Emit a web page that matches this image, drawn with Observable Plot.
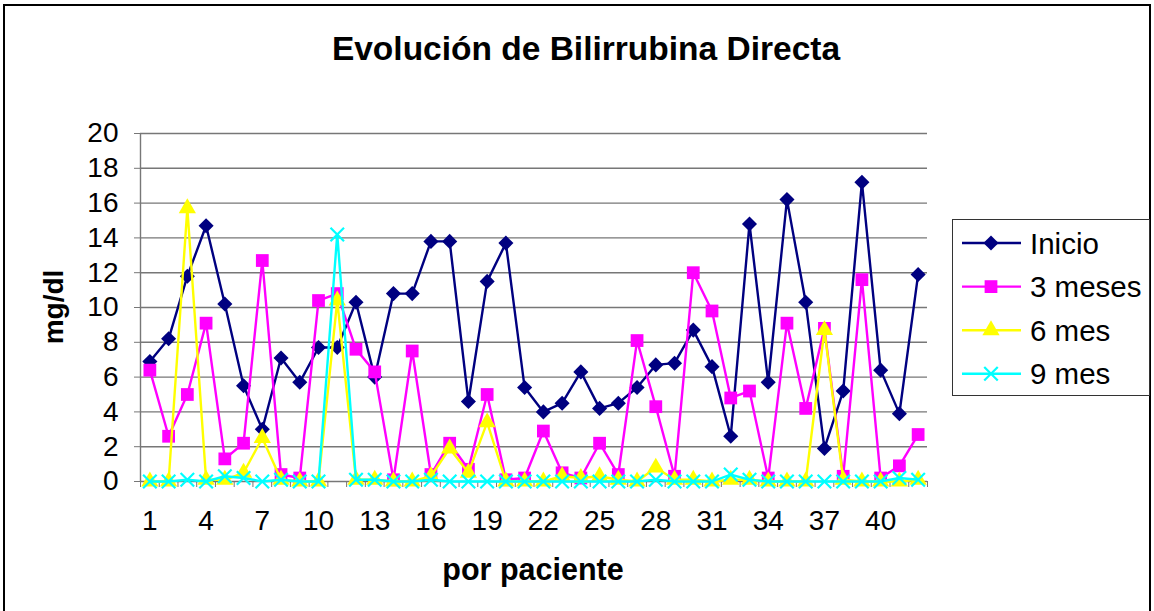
<!DOCTYPE html>
<html>
<head>
<meta charset="utf-8">
<script src="https://cdn.jsdelivr.net/npm/d3@7"></script>
<script src="https://cdn.jsdelivr.net/npm/@observablehq/plot@0.6"></script>
<style>
  html, body { margin: 0; padding: 0; background: #fff; }
  #wrap { position: relative; width: 1154px; height: 611px; overflow: hidden; font-family: "Liberation Sans", Arial, sans-serif; }
  #frame { position: absolute; left: 3px; top: 4px; width: 1148px; height: 640px; border: 2px solid #000; box-sizing: border-box; pointer-events: none; }
  #chart { position: absolute; left: 0; top: 0; }
  .overlay { position: absolute; left: 0; top: 0; pointer-events: none; }
</style>
</head>
<body>
<div id="wrap">
  <div id="chart"></div>
  <div id="frame"></div>
</div>
<script>
// ---- data ----
const patients = d3.range(1, 43);
const inicio  = [6.9, 8.2, 11.8, 14.7, 10.2, 5.5, 3.0, 7.1, 5.7, 7.7, 7.7, 10.3, 6.0, 10.8, 10.8, 13.8, 13.8, 4.6, 11.5, 13.7, 5.4, 4.0, 4.5, 6.3, 4.2, 4.5, 5.4, 6.7, 6.8, 8.7, 6.6, 2.6, 14.8, 5.7, 16.2, 10.3, 1.9, 5.2, 17.2, 6.4, 3.9, 11.9];
const meses3  = [6.4, 2.6, 5.0, 9.1, 1.3, 2.2, 12.7, 0.4, 0.2, 10.4, 10.8, 7.6, 6.3, 0.1, 7.5, 0.4, 2.2, 0.7, 5.0, 0.1, 0.2, 2.9, 0.5, 0.2, 2.2, 0.4, 8.1, 4.3, 0.3, 12.0, 9.8, 4.8, 5.2, 0.2, 9.1, 4.2, 8.8, 0.3, 11.6, 0.2, 0.9, 2.7];
const mes6    = [0, 0, 15.7, 0.1, 0.1, 0.5, 2.5, 0.1, 0, 0, 10.4, 0.1, 0.1, 0, 0, 0.3, 1.9, 0.5, 3.4, 0, 0, 0, 0.3, 0.2, 0.3, 0.1, 0, 0.8, 0.1, 0.1, 0, 0.1, 0.1, 0, 0, 0, 8.7, 0.1, 0, 0, 0, 0.1];
const mes9    = [0, 0, 0.1, 0, 0.3, 0.2, 0, 0.1, 0, 0, 14.2, 0.1, 0.1, 0, 0, 0.1, 0, 0, 0, 0, 0, 0, 0, 0, 0, 0, 0, 0.1, 0, 0, 0, 0.4, 0.1, 0, 0, 0, 0, 0, 0, 0, 0.2, 0.1];
const seriesNames = ["Inicio", "3 meses", "6 mes", "9 mes"];
const yTicks = d3.range(0, 21, 2);
const xTickLabels = d3.range(1, 41, 3);
const title = "Evolución de Bilirrubina Directa";
const xTitle = "por paciente";
const yTitle = "mg/dl";

// ---- styling ----
const colors = ["#000080", "#FF00FF", "#FFFF00", "#00FFFF"];
const symbols = ["diamond2", "square", "triangle", "times"];
const radii = [6.8, 7.2, 6.4, 6.2];
const allValues = [inicio, meses3, mes6, mes9];

const tables = allValues.map((vals, i) => vals.map((v, j) => ({patient: patients[j], value: v, serie: seriesNames[i]})));

const marks = [
  Plot.ruleY(yTicks.filter(d => d > 0), {stroke: "#777", strokeWidth: 1.4}),
  Plot.axisY({ticks: yTicks, tickSize: 6, tickPadding: 16, fontSize: 28, stroke: "#777", fill: "#000", label: null}),
  Plot.axisX({ticks: d3.range(0.5, 43, 1), tickSize: 6, tickFormat: () => "", stroke: "#777", label: null}),
  Plot.axisX({ticks: xTickLabels, tickSize: 0, tickPadding: 29, fontSize: 28, fill: "#000", label: null}),
  Plot.ruleY([0], {stroke: "#777", strokeWidth: 1.4}),
  Plot.ruleX([0.5], {stroke: "#777", strokeWidth: 1.4})
];
tables.forEach((t, i) => {
  marks.push(Plot.line(t, {x: "patient", y: "value", stroke: colors[i], strokeWidth: 2.4}));
  if (symbols[i] === "times") {
    marks.push(Plot.dot(t, {x: "patient", y: "value", symbol: symbols[i], r: radii[i], stroke: colors[i], strokeWidth: 2.2, fill: "none"}));
  } else {
    marks.push(Plot.dot(t, {x: "patient", y: "value", symbol: symbols[i], r: radii[i], fill: colors[i], stroke: "none"}));
  }
});

const chart = Plot.plot({
  width: 1154,
  height: 611,
  marginLeft: 140,
  marginRight: 227,
  marginTop: 133,
  marginBottom: 130,
  style: {fontFamily: "'Liberation Sans', Arial, sans-serif", fontSize: "28px", background: "white", color: "#000"},
  x: {domain: [0.5, 42.5], axis: null},
  y: {domain: [0, 20], axis: null},
  marks
});
document.getElementById("chart").appendChild(chart);

// ---- overlay texts and legend ----
const ov = d3.select("#wrap").append("svg")
  .attr("class", "overlay").attr("width", 1154).attr("height", 611)
  .style("font-family", "'Liberation Sans', Arial, sans-serif");

ov.append("text").attr("x", 586).attr("y", 60).attr("text-anchor", "middle")
  .attr("font-size", 33.5).attr("font-weight", "bold").text(title);
ov.append("text").attr("x", 533).attr("y", 580).attr("text-anchor", "middle")
  .attr("font-size", 30.5).attr("font-weight", "bold").text(xTitle);
ov.append("text").attr("transform", "translate(63,307) rotate(-90)").attr("text-anchor", "middle")
  .attr("font-size", 28).attr("font-weight", "bold").text(yTitle);

const lg = ov.append("g");
lg.append("rect").attr("x", 952.5).attr("y", 219.5).attr("width", 197).attr("height", 176)
  .attr("fill", "white").attr("stroke", "#333").attr("stroke-width", 1);
const symMap = {diamond2: d3.symbolDiamond2, square: d3.symbolSquare, triangle: d3.symbolTriangle, times: d3.symbolTimes};
seriesNames.forEach((name, i) => {
  const y = 243 + i * 43.6;
  lg.append("line").attr("x1", 962).attr("x2", 1021).attr("y1", y).attr("y2", y)
    .attr("stroke", colors[i]).attr("stroke-width", 2.4);
  const size = Math.PI * radii[i] * radii[i];
  const p = lg.append("path").attr("transform", `translate(991,${y})`)
    .attr("d", d3.symbol(symMap[symbols[i]], size)());
  if (symbols[i] === "times") p.attr("fill", "none").attr("stroke", colors[i]).attr("stroke-width", 2.2);
  else p.attr("fill", colors[i]);
  lg.append("text").attr("x", 1030).attr("y", y).attr("dy", "0.36em")
    .attr("font-size", 29.5).text(name);
});
</script>
</body>
</html>
